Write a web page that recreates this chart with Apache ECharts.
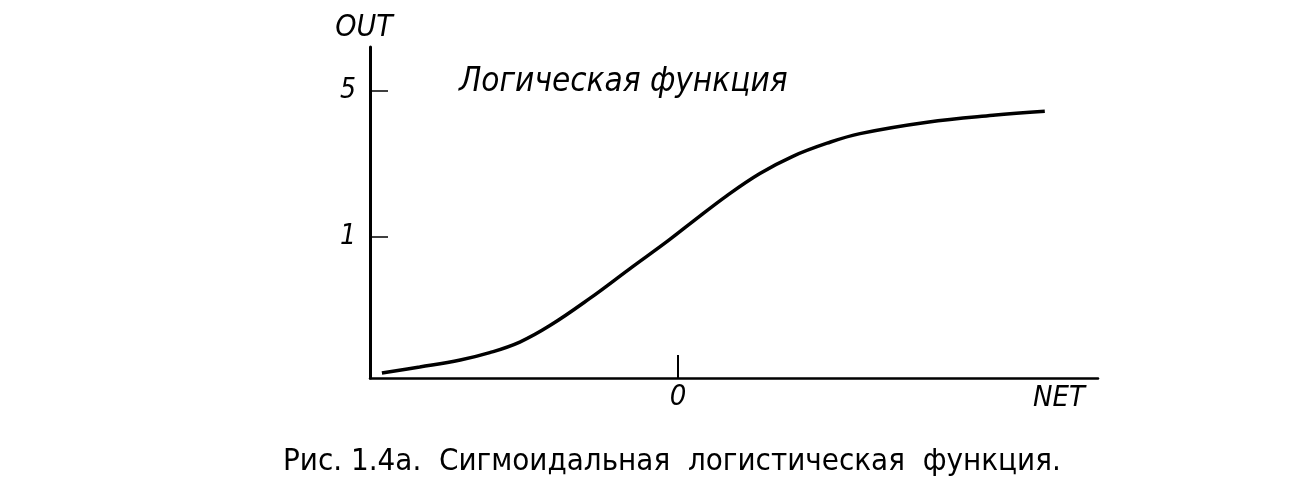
<!DOCTYPE html>
<html>
<head>
<meta charset="utf-8">
<script src="https://cdn.jsdelivr.net/npm/echarts@6/dist/echarts.min.js"></script>
<style>
html,body{margin:0;padding:0;background:#fff;}
#chart{width:1308px;height:486px;}
</style>
</head>
<body>
<div id="chart"></div>
<script>
// NET values (x) and OUT values (y)
const netValues = [-4.23, -3.69, -3.11, -2.69, -2.26, -1.83, -1.26, -0.69, -0.14, 0.21, 0.70, 1.17, 1.64, 2.13, 2.60, 3.56, 4.50, 5.24];
const outValues = [0.035, 0.078, 0.128, 0.180, 0.255, 0.372, 0.565, 0.775, 0.975, 1.110, 1.295, 1.452, 1.574, 1.667, 1.735, 1.816, 1.865, 1.894];
const xTickValues = [0];
const xTickLabels = ['0'];
const yTickValues = [1, 2.04];
const yTickLabels = ['1', '5'];
const xAxisName = 'NET';
const yAxisName = 'OUT';
const titleText = 'Логическая функция';
const captionText = 'Рис. 1.4а.  Сигмоидальная  логистическая  функция.';

const hand = "'Liberation Sans Narrow', 'DejaVu Sans Condensed', sans-serif";
const chart = echarts.init(document.getElementById('chart'), null, {renderer: 'canvas'});
chart.setOption({
  backgroundColor: '#fff',
  animation: false,
  grid: {left: 370, right: 210, top: 47, bottom: 108, containLabel: false},
  xAxis: {
    type: 'value', min: -4.4, max: 6,
    name: xAxisName, nameLocation: 'end', nameGap: -13,
    nameTextStyle: {fontFamily: hand, fontStyle: 'italic', fontSize: 29, color: '#000', align: 'right', verticalAlign: 'top', padding: [6, 0, 0, 0]},
    axisLine: {onZero: false, lineStyle: {color: '#000', width: 2.5}},
    axisTick: {show: true, inside: true, length: 23, customValues: xTickValues, lineStyle: {color: '#000', width: 2}},
    axisLabel: {customValues: xTickValues, formatter: v => xTickLabels[xTickValues.indexOf(v)] ?? '', fontFamily: hand, fontStyle: 'italic', fontSize: 29, color: '#000', margin: 5},
    splitLine: {show: false}
  },
  yAxis: {
    type: 'value', min: 0, max: 2.35,
    name: yAxisName, nameLocation: 'end', nameGap: 4,
    nameTextStyle: {fontFamily: hand, fontStyle: 'italic', fontSize: 30, color: '#000', padding: [0, 12, 0, 0]},
    axisLine: {show: true, onZero: false, lineStyle: {color: '#000', width: 3}},
    axisTick: {show: true, inside: true, length: 18, customValues: yTickValues, lineStyle: {color: '#000', width: 1.5}},
    axisLabel: {customValues: yTickValues, formatter: v => yTickLabels[yTickValues.indexOf(v)] ?? '', fontFamily: hand, fontStyle: 'italic', fontSize: 28, color: '#000', margin: 14},
    splitLine: {show: false}
  },
  graphic: [
    {type: 'text', left: 459, top: 66, style: {text: titleText, font: "italic 33px 'DejaVu Sans Condensed', 'DejaVu Sans', sans-serif", fill: '#000'}},
    {type: 'text', left: 283, top: 446, style: {text: captionText, font: "31px 'Liberation Sans Narrow', 'DejaVu Sans Condensed', sans-serif", fill: '#000'}}
  ],
  series: [{
    type: 'line',
    data: netValues.map((x, i) => [x, outValues[i]]),
    smooth: 0.4,
    showSymbol: false,
    lineStyle: {color: '#000', width: 3.5}
  }]
});
</script>
</body>
</html>
